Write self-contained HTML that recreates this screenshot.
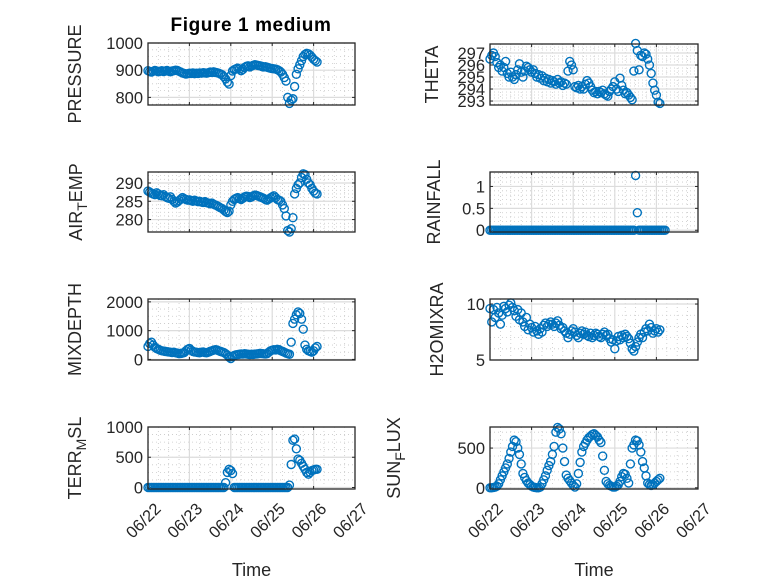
<!DOCTYPE html>
<html><head><meta charset="utf-8"><style>
html,body{margin:0;padding:0;background:#fff;}
svg{display:block;font-family:"Liberation Sans",sans-serif;}
</style></head><body>
<svg id="fig" width="778" height="583" viewBox="0 0 778 583" xmlns="http://www.w3.org/2000/svg">
<rect width="778" height="583" fill="#fff"/>
<text x="251" y="31" text-anchor="middle" font-size="19" font-weight="bold" fill="#000" letter-spacing="0.6">Figure 1 medium</text>
<g id="plots"></g>
</svg>
<script>
const hours = Array.from({length:103},(_,i)=>i);
const xTickLabels = ["06/22","06/23","06/24","06/25","06/26","06/27"];
const pressure = [898,895,893,896,899,897,894,896,898,895,897,899,896,894,897,898,900,899,896,893,890,888,886,887,889,888,890,887,889,888,890,889,891,890,889,891,893,892,894,892,891,889,886,883,876,868,856,849,880,897,902,905,908,904,898,903,910,914,916,912,915,918,920,919,917,916,914,912,913,911,909,907,906,905,904,902,898,893,885,873,860,800,778,790,795,840,885,905,920,935,950,958,962,960,955,948,940,935,930];
const airTemp = [287.8,287.5,287.2,287.0,286.8,287.3,287.0,286.6,286.5,286.8,286.3,286.0,285.8,286.2,285.5,285.0,284.5,284.8,285.2,285.6,286.0,285.7,285.5,285.3,285.4,285.2,285.0,285.3,285.1,284.9,285.0,284.8,284.7,284.9,284.6,284.5,284.3,284.5,284.2,284.0,283.8,283.5,283.2,283.0,282.6,282.2,281.9,282.3,284.0,285.0,285.5,285.8,286.0,285.7,285.5,285.8,286.2,286.4,286.3,286.0,286.2,286.5,286.7,286.6,286.4,286.2,286.0,285.8,285.5,285.3,285.6,285.9,286.2,286.5,286.0,285.5,285.3,285.0,284.0,283.0,281.0,277.0,276.6,277.5,280.5,287.0,288.5,289.5,290.0,291.5,292.5,292.3,291.0,290.0,289.5,288.5,287.8,287.2,287.0];
const theta = [296.5,296.8,297.0,296.7,296.2,295.8,296.0,295.5,295.8,296.3,295.3,295.0,295.4,295.0,294.8,295.2,295.6,296.1,295.4,295.0,295.5,295.9,295.8,295.6,295.4,295.6,295.3,295.0,295.2,294.9,295.1,294.7,294.9,294.6,294.8,294.5,294.7,294.6,294.4,294.8,294.5,294.6,294.3,294.5,294.4,295.5,296.3,296.0,295.6,294.2,294.1,294.3,294.0,294.2,294.0,294.4,294.7,294.5,294.2,293.9,293.7,293.8,293.6,293.8,293.7,293.9,293.6,293.5,293.4,293.8,294.0,294.2,294.6,294.0,293.8,294.9,294.3,293.9,293.6,293.7,293.5,293.3,293.1,295.5,297.8,297.2,295.6,296.8,296.7,297.0,296.9,296.5,296.0,295.3,294.5,293.9,293.5,292.9,292.8];
const rainfall = [0,0,0,0,0,0,0,0,0,0,0,0,0,0,0,0,0,0,0,0,0,0,0,0,0,0,0,0,0,0,0,0,0,0,0,0,0,0,0,0,0,0,0,0,0,0,0,0,0,0,0,0,0,0,0,0,0,0,0,0,0,0,0,0,0,0,0,0,0,0,0,0,0,0,0,0,0,0,0,0,0,0,0,0,1.25,0.4,0,0,0,0,0,0,0,0,0,0,0,0,0,0,0,0];
const mixDepth = [450,550,600,500,420,380,350,320,300,290,280,270,260,250,240,250,230,220,200,210,220,240,300,350,380,320,280,260,250,240,230,250,260,240,230,250,280,300,320,340,330,300,280,260,240,200,150,80,30,100,140,160,170,180,190,185,200,190,180,170,180,175,185,190,200,210,205,195,190,200,250,300,320,340,330,350,340,300,280,250,220,200,180,600,1250,1400,1550,1650,1600,1400,1050,500,350,300,280,250,300,400,450];
const terrMsl = [0,0,0,0,0,0,0,0,0,0,0,0,0,0,0,0,0,0,0,0,0,0,0,0,0,0,0,0,0,0,0,0,0,0,0,0,0,0,0,0,0,0,0,0,0,80,250,300,280,230,0,0,0,0,0,0,0,0,0,0,0,0,0,0,0,0,0,0,0,0,0,0,0,0,0,0,0,0,0,0,0,0,40,380,780,800,640,470,450,400,350,300,250,220,250,280,290,300,300];
const h2oMix = [9.6,8.4,9.5,8.8,9.7,9.2,8.2,9.0,9.8,9.6,9.3,9.9,10.1,9.7,9.4,8.9,9.5,8.6,9.2,8.4,8.0,8.8,7.7,8.2,7.9,7.5,8.0,7.6,7.3,7.8,7.5,8.1,8.3,8.0,8.2,8.4,8.2,8.0,8.3,8.5,8.1,7.8,7.9,7.6,7.4,7.0,7.3,7.6,7.8,7.5,7.2,7.0,7.4,7.6,7.3,7.5,7.2,7.1,7.4,7.0,7.2,7.4,7.3,7.1,7.0,7.3,7.5,7.2,7.3,6.9,6.6,6.8,6.0,6.7,7.1,6.8,7.2,7.0,7.3,7.1,6.9,6.5,6.0,5.8,6.2,6.6,7.0,7.3,7.0,7.5,7.8,7.6,8.2,7.9,7.4,7.6,7.8,7.5,7.7];
const sunFlux = [0,0,5,10,20,50,100,150,200,250,300,370,450,520,600,580,500,420,300,180,130,90,60,40,20,10,5,0,0,10,50,100,150,220,280,330,420,520,700,760,740,680,500,330,160,120,90,60,30,10,50,180,320,450,520,560,600,630,650,670,680,660,640,600,570,400,220,80,50,30,20,10,10,20,40,80,140,180,170,120,60,300,500,540,600,590,540,450,330,250,150,60,40,30,40,60,80,100,120];

const NS="http://www.w3.org/2000/svg";
const g=document.getElementById('plots');
function el(tag,attrs,parent){const e=document.createElementNS(NS,tag);for(const k in attrs)e.setAttribute(k,attrs[k]);(parent||g).appendChild(e);return e;}

const panels=[
 {name:'pressure',label:'PRESSURE',data:pressure,ymin:772,ymax:1000,ticks:[800,900,1000],minor:25,x0:148,x1:355,y0:43,y1:105,lx:81,bottom:false},
 {name:'theta',label:'THETA',data:theta,ymin:292.67,ymax:297.75,ticks:[293,294,295,296,297],minor:0.25,x0:490,x1:698,y0:44,y1:105,lx:438,bottom:false},
 {name:'air-temp',label:['AIR','T','EMP'],data:airTemp,ymin:276.6,ymax:293,ticks:[280,285,290],minor:1,x0:148,x1:355,y0:172,y1:232,lx:82,bottom:false},
 {name:'rainfall',label:'RAINFALL',data:rainfall,ymin:-0.04,ymax:1.33,ticks:[0,0.5,1],minor:0.1,x0:490,x1:698,y0:172,y1:232,lx:440,bottom:false},
 {name:'mixdepth',label:'MIXDEPTH',data:mixDepth,ymin:-20,ymax:2100,ticks:[0,1000,2000],minor:250,x0:148,x1:355,y0:299,y1:360,lx:81,bottom:false},
 {name:'h2omixra',label:'H2OMIXRA',data:h2oMix,ymin:5,ymax:10.45,ticks:[5,10],minor:1,x0:490,x1:698,y0:299,y1:360,lx:443,bottom:false},
 {name:'terr-msl',label:['TERR','M','SL'],data:terrMsl,ymin:-25,ymax:1000,ticks:[0,500,1000],minor:125,x0:148,x1:355,y0:427,y1:489,lx:81,bottom:true},
 {name:'sun-flux',label:['SUN','F','LUX'],data:sunFlux,ymin:-15,ymax:765,ticks:[0,500],minor:100,x0:490,x1:698,y0:427,y1:489,lx:400,bottom:true}
];

panels.forEach(p=>{
  const ax=el('g',{});
  
  
  const xs=h=>p.x0+(h/120)*(p.x1-p.x0);
  const ys=v=>p.y1-(v-p.ymin)/(p.ymax-p.ymin)*(p.y1-p.y0);
  for(let h=6;h<120;h+=6){ if(h%24===0)continue;
    el('line',{x1:xs(h),x2:xs(h),y1:p.y0,y2:p.y1,stroke:'#c8c8c8','stroke-width':0.8,'stroke-dasharray':'1,3'},ax);}
  for(let v=Math.ceil(p.ymin/p.minor)*p.minor;v<p.ymax;v+=p.minor){
    el('line',{x1:p.x0,x2:p.x1,y1:ys(v),y2:ys(v),stroke:'#c8c8c8','stroke-width':0.8,'stroke-dasharray':'1,3'},ax);}
  for(let d=1;d<5;d++) el('line',{x1:xs(d*24),x2:xs(d*24),y1:p.y0,y2:p.y1,stroke:'#dcdcdc','stroke-width':1.2},ax);
  p.ticks.forEach(t=>el('line',{x1:p.x0,x2:p.x1,y1:ys(t),y2:ys(t),stroke:'#dcdcdc','stroke-width':1.2},ax));
  for(let d=0;d<=5;d++){const x=xs(d*24);
    el('line',{x1:x,x2:x,y1:p.y1,y2:p.y1-3,stroke:'#262626'},ax);
    el('line',{x1:x,x2:x,y1:p.y0,y2:p.y0+3,stroke:'#262626'},ax);
    if(p.bottom){
      const t=el('text',{x:x+6,y:p.y1+13,'text-anchor':'end','font-size':'16.5',fill:'#262626',transform:`rotate(-45 ${x+6} ${p.y1+13})`,'dominant-baseline':'hanging'},ax);
      
      
      t.textContent=xTickLabels[d];
    }
  }
  p.ticks.forEach(tv=>{
    el('line',{x1:p.x0,x2:p.x0+3,y1:ys(tv),y2:ys(tv),stroke:'#262626'},ax);
    el('line',{x1:p.x1,x2:p.x1-3,y1:ys(tv),y2:ys(tv),stroke:'#262626'},ax);
    const t=el('text',{x:p.x0-5,y:ys(tv)+6,'text-anchor':'end','font-size':'16.5',fill:'#262626'},ax);
    
    
    t.textContent=String(tv);
  });
  p.data.forEach((v,i)=>{
    const c=el('circle',{cx:xs(hours[i]),cy:ys(v),r:4,fill:'none',stroke:'#0072BD','stroke-width':1.4},ax);
    
    
  });
  el('rect',{x:p.x0,y:p.y0,width:p.x1-p.x0,height:p.y1-p.y0,fill:'none',stroke:'#262626','stroke-width':1.3},ax);
  const cy=(p.y0+p.y1)/2;
  const yl=el('text',{x:p.lx,y:cy,'text-anchor':'middle','font-size':'18',fill:'#262626',transform:`rotate(-90 ${p.lx} ${cy})`},ax);
  
  
  if(Array.isArray(p.label)){
    const a=el('tspan',{},yl);a.textContent=p.label[0];
    const b=el('tspan',{dy:'5','font-size':'14'},yl);b.textContent=p.label[1];
    const c=el('tspan',{dy:'-5'},yl);c.textContent=p.label[2];
  } else yl.textContent=p.label;
  if(p.bottom){
    const xl=el('text',{x:(p.x0+p.x1)/2,y:576,'text-anchor':'middle','font-size':'18',fill:'#262626'},ax);
    
    
    xl.textContent='Time';
  }
});
</script>
</body></html>
